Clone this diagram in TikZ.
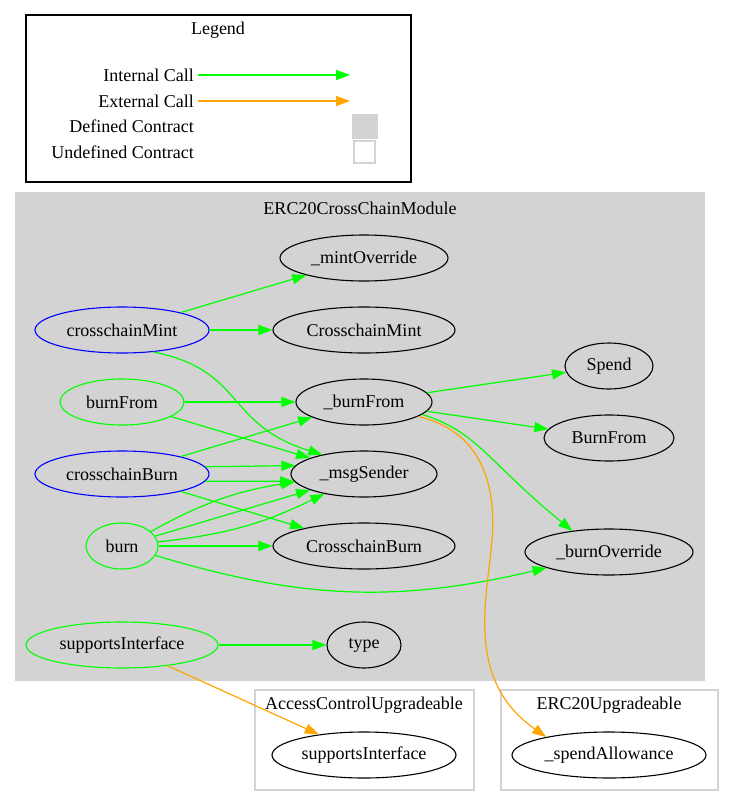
\documentclass[tikz,border=0pt]{standalone}
\usepackage{fontspec}
\setmainfont{Liberation Serif}
\usetikzlibrary{shapes.geometric,arrows.meta}
\definecolor{gvgreen}{HTML}{00FF00}
\definecolor{gvorange}{HTML}{FFA500}
\definecolor{gvgray}{HTML}{D3D3D3}
\tikzset{
        every node/.style={font=\fontsize{18}{20}\selectfont},
        fn/.style={ellipse, draw=black, line width=1.1pt, inner sep=0pt, minimum height=46pt},
        pub/.style={fn, draw=gvgreen},
        entry/.style={fn, draw=blue},
        icall/.style={draw=gvgreen, line width=1.2pt, -{Triangle[length=14pt,width=10pt]}},
        ecall/.style={icall, draw=gvorange},
        cluster/.style={draw=gvgray, line width=1.2pt},
        lbl/.style={anchor=east, inner sep=0pt}
          }

\begin{document}
\begin{tikzpicture}[x=1pt,y=-1pt]
        \useasboundingbox[fill=white] (0,0) rectangle (734,807);
        % legend
        \draw[line width=1.2pt] (26,15) rectangle (411,182);
        \node (lgd) at (218,30) {Legend};
        \node[lbl] (li) at (194,75) {Internal Call};
        \node[lbl] (le) at (194,101) {External Call};
        \node[lbl] (ld) at (194,126) {Defined Contract};
        \node[lbl] (lu) at (194,152) {Undefined Contract};
        \coordinate (li2) at (350,75);
        \coordinate (le2) at (350,101);
        \draw[icall] (198,75) -- (li2);
        \draw[ecall] (198,101) -- (le2);
        \draw[fill=gvgray, draw=gvgray] (352,114) rectangle (377,138);
        \draw[fill=white, draw=gvgray, line width=1.2pt] (354,141) rectangle (375,163);
        % clusters
        \draw[cluster, fill=gvgray] (16,193) rectangle (704,680);
        \node (c1) at (360,208) {ERC20CrossChainModule};
        \draw[cluster] (255,690) rectangle (474,790);
        \node (c2) at (364,705) {AccessControlUpgradeable};
        \draw[cluster] (501,690) rectangle (718,790);
        \node (c3) at (609,705) {ERC20Upgradeable};
        % functions
        \node[fn, minimum width=168pt] (mo) at (364,258) {\_mintOverride};
        \node[entry, minimum width=174pt] (cm) at (122,330) {crosschainMint};
        \node[fn, minimum width=182pt] (CM) at (364,330) {CrosschainMint};
        \node[pub, minimum width=124pt] (bfp) at (122,402) {burnFrom};
        \node[fn, minimum width=136pt] (bf) at (364,402) {\_burnFrom};
        \node[fn, minimum width=88pt] (sp) at (609,366) {Spend};
        \node[fn, minimum width=130pt] (BF) at (609,438) {BurnFrom};
        \node[entry, minimum width=174pt] (cb) at (122,474) {crosschainBurn};
        \node[fn, minimum width=146pt] (ms) at (364,474) {\_msgSender};
        \node[pub, minimum width=72pt] (bu) at (122,546) {burn};
        \node[fn, minimum width=182pt] (CB) at (364,546) {CrosschainBurn};
        \node[fn, minimum width=168pt] (bo) at (609,552) {\_burnOverride};
        \node[pub, minimum width=192pt] (si) at (122,645) {supportsInterface};
        \node[fn, minimum width=74pt] (ty) at (364,645) {type};
        \node[fn, minimum width=184pt] (asi) at (364,755) {supportsInterface};
        \node[fn, minimum width=194pt] (sa) at (609,755) {\_spendAllowance};
        % calls
        \draw[icall] (cm) -- (mo);
        \draw[icall] (cm) -- (CM);
        \draw[icall] (cm.-35) .. controls (245,370) and (225,425) .. (ms.155);
        \draw[icall] (bfp) -- (bf);
        \draw[icall] (bfp) -- (ms);
        \draw[icall] (cb) -- (bf);
        \draw[icall] (cb.5.6) -- (ms.173.3);
        \draw[icall] (cb.-5.6) -- (ms.186.7);
        \draw[icall] (cb) -- (CB);
        \draw[icall] (bu) to[bend left=10] (ms);
        \draw[icall] (bu) -- (ms);
        \draw[icall] (bu) to[bend right=10] (ms);
        \draw[icall] (bu) -- (CB);
        \draw[icall] (bu) to[bend right=15] (bo);
        \draw[icall] (bf) -- (sp);
        \draw[icall] (bf) -- (BF);
        \draw[icall] (bf.-12) .. controls (478,432) and (488,462) .. (bo.150);
        \draw[icall] (si) -- (ty);
        \draw[ecall] (bf.-15) .. controls (478,430) and (497,480) .. (492,540)
          .. controls (487,600) and (465,680) .. (sa.164);
        \draw[ecall] (si) -- (asi);
\end{tikzpicture}
\end{document}
